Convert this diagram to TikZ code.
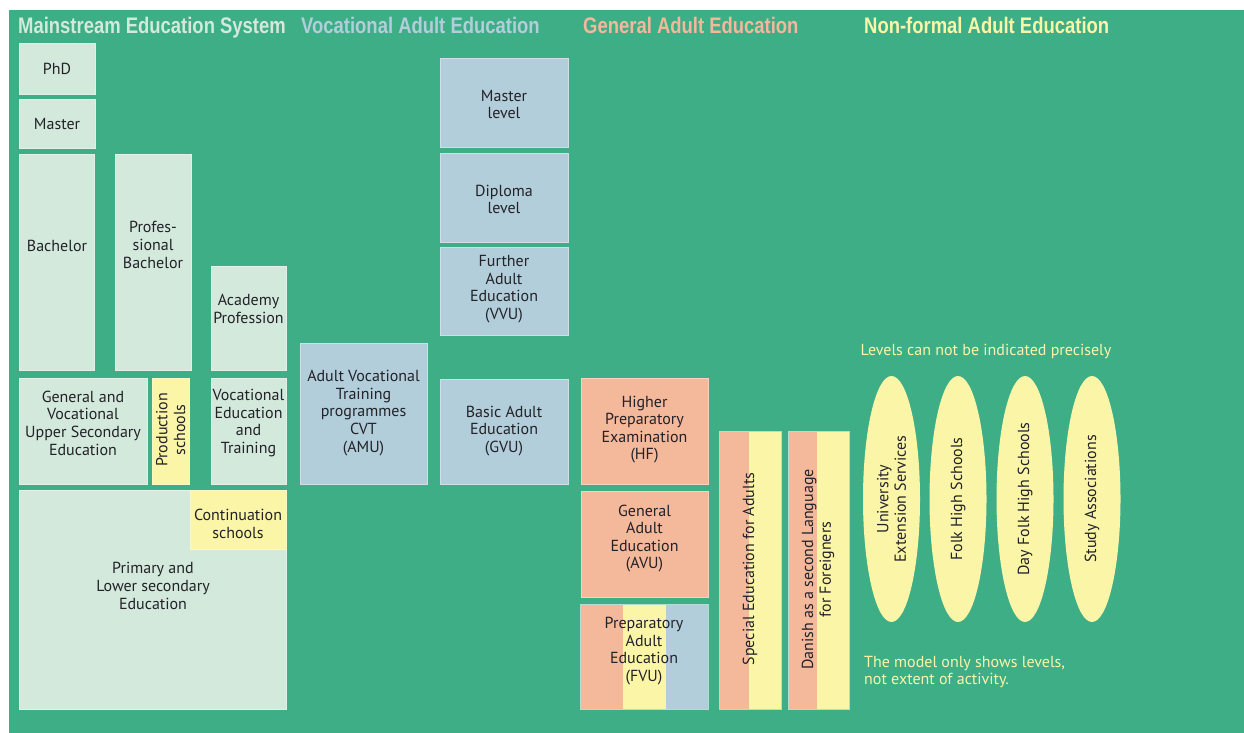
\documentclass[tikz,border=0pt]{standalone}
\usepackage{fontspec}
\setmainfont{PT Sans}
\newfontfamily\hdrfont{Liberation Sans}[FakeStretch=0.82]
\usetikzlibrary{shapes.geometric}
\definecolor{bg}{HTML}{3DAE86}
\definecolor{lg}{HTML}{D3E9DC}
\definecolor{bl}{HTML}{B3CEDB}
\definecolor{sa}{HTML}{F4B89B}
\definecolor{ye}{HTML}{FBF5A8}
\definecolor{tx}{HTML}{222228}
\newcommand\boxfnt{\fontsize{16}{17.6}\selectfont}
\newcommand\notefnt{\fontsize{16}{17.2}\selectfont}
\newcommand\hdrfnt{\hdrfont\bfseries\fontsize{22.5}{24}\selectfont}
\begin{document}
\begin{tikzpicture}[x=1pt,y=-1pt,
  bx/.style={fill=#1, draw=#1!65!white, line width=0.6pt},
  edge/.style={draw=white!60!bg, line width=0.6pt},
  lbl/.style={text=tx, font=\boxfnt, align=center, inner sep=0pt},
  hdr/.style={font=\hdrfnt, anchor=base west, inner sep=0pt},
  note/.style={text=ye, font=\notefnt, inner sep=0pt},
  ell/.style={ellipse, fill=ye, minimum width=246pt, minimum height=57pt, inner sep=0pt, rotate=90, text=tx, font=\boxfnt, align=center}]
\useasboundingbox (0,0) rectangle (1244,733);
\fill[white] (0,0) rectangle (1244,733);
\fill[bg] (9,10) rectangle (1244,733);
% headers
\node[hdr, text=lg] (h1) at (18,34) {Mainstream Education System};
\node[hdr, text=bl] (h2) at (301,34) {Vocational Adult Education};
\node[hdr, text=sa] (h3) at (583,34) {General Adult Education};
\node[hdr, text=ye] (h4) at (864,34) {Non-formal Adult Education};
% mainstream
\path[bx=lg] (19,43) rectangle (95,94);
\node[lbl] (phd) at (57,69) {PhD};
\path[bx=lg] (19,99) rectangle (95,148);
\node[lbl] (master) at (57,124) {Master};
\path[bx=lg] (19,154) rectangle (94,370);
\node[lbl] (bach) at (57,246) {Bachelor};
\path[bx=lg] (115,154) rectangle (191,370);
\node[lbl] (pbach) at (153,245) {Profes-\\sional\\Bachelor};
\path[bx=lg] (211,266) rectangle (286,370);
\node[lbl] (acad) at (248.5,309) {Academy\\Profession};
\path[bx=lg] (19,378) rectangle (147,484);
\node[lbl] (upsec) at (83,423) {General and\\Vocational\\Upper Secondary\\Education};
\path[bx=ye] (152,378) rectangle (189,484);
\node[lbl, rotate=90] (prod) at (170.7,430) {Production\\schools};
\path[bx=lg] (211,378) rectangle (286,484);
\node[lbl] (vet) at (248.5,423) {Vocational\\Education\\and\\Training};
\path[bx=lg] (19,490) rectangle (286,709);
\path[bx=ye] (190,490) rectangle (286,549);
\node[lbl] (prim) at (153,586) {Primary and\\Lower secondary\\Education};
\node[lbl] (cont) at (238,524) {Continuation\\schools};
% vocational adult
\path[bx=bl] (440,58) rectangle (568,147);
\node[lbl] (ml) at (504,104.5) {Master\\level};
\path[bx=bl] (440,153) rectangle (568,242);
\node[lbl] (dl) at (504,199.5) {Diploma\\level};
\path[bx=bl] (440,247) rectangle (568,335);
\node[lbl] (vvu) at (504,289) {Further\\Adult\\Education\\(VVU)};
\path[bx=bl] (300,343) rectangle (427,484);
\node[lbl] (amu) at (363.5,413) {Adult Vocational\\Training\\programmes\\CVT\\(AMU)};
\path[bx=bl] (440,379) rectangle (568,484);
\node[lbl] (gvu) at (504,431) {Basic Adult\\Education\\(GVU)};
% general adult
\path[bx=sa] (581,378) rectangle (708,484);
\node[lbl] (hf) at (644.5,429.5) {Higher\\Preparatory\\Examination\\(HF)};
\path[bx=sa] (581,491) rectangle (708,597);
\node[lbl] (avu) at (644.5,538.5) {General\\Adult\\Education\\(AVU)};
\fill[sa] (580,604) rectangle (623,709);
\fill[ye] (623,604) rectangle (666,709);
\fill[bl] (666,604) rectangle (708,709);
\path[edge] (580,604) rectangle (708,709);
\node[lbl] (fvu) at (644,651) {Preparatory\\Adult\\Education\\(FVU)};
\fill[sa] (719,431) rectangle (749,709);
\fill[ye] (749,431) rectangle (781,709);
\path[edge] (719,431) rectangle (781,709);
\node[lbl, rotate=90] (spec) at (750,569) {Special Education for Adults};
\fill[sa] (788,431) rectangle (817,709);
\fill[ye] (817,431) rectangle (849,709);
\path[edge] (788,431) rectangle (849,709);
\node[lbl, rotate=90] (dan) at (818,569.5) {Danish as a second Language\\for Foreigners};
% non-formal
\node[note] (lev) at (986,351) {Levels can not be indicated precisely};
\node[ell] (ues) at (891.5,499) {University\\Extension Services};
\node[ell] (fhs) at (958,499) {Folk High Schools};
\node[ell] (dfhs) at (1025,499) {Day Folk High Schools};
\node[ell] (sa) at (1092,499) {Study Associations};
\node[note, anchor=north west, align=left] (model) at (864,656) {The model only shows levels,\\not extent of activity.};
\end{tikzpicture}
\end{document}
